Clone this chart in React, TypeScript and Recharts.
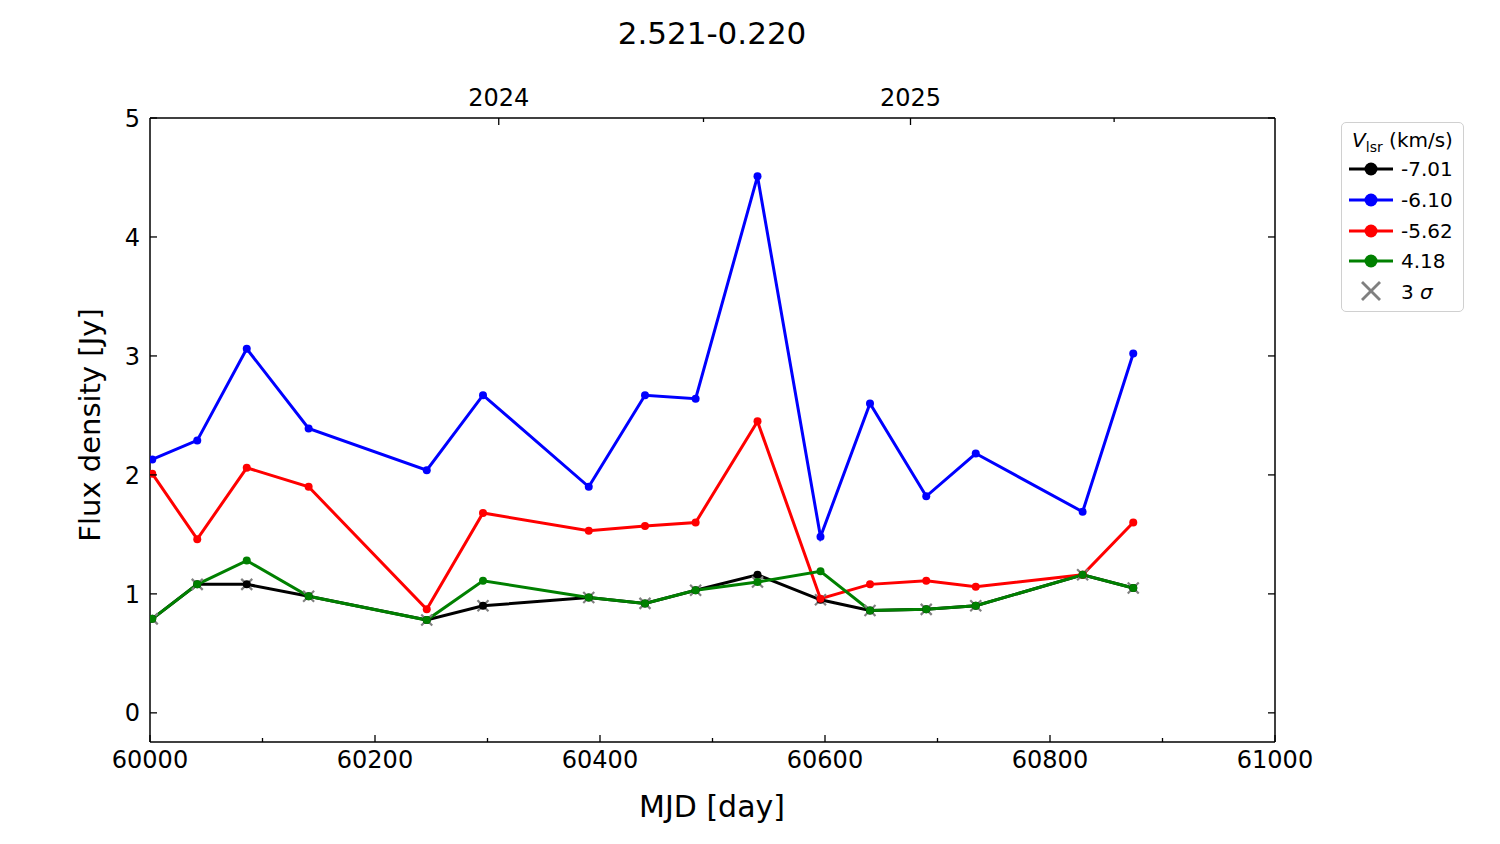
import { LineChart, Line, XAxis, YAxis } from 'recharts';

// epochs (MJD) and flux densities [Jy] per velocity channel
const mjd = [60002, 60042, 60086, 60141, 60246, 60296, 60390, 60440, 60485, 60540, 60596, 60640, 60690, 60734, 60829, 60874];
const fluxM701 = [0.79, 1.08, 1.08, 0.98, 0.78, 0.90, 0.97, 0.92, 1.03, 1.16, 0.95, 0.86, 0.87, 0.90, 1.16, 1.05];
const fluxM610 = [2.13, 2.29, 3.06, 2.39, 2.04, 2.67, 1.90, 2.67, 2.64, 4.51, 1.48, 2.60, 1.82, 2.18, 1.69, 3.02];
const fluxM562 = [2.01, 1.46, 2.06, 1.90, 0.87, 1.68, 1.53, 1.57, 1.60, 2.45, 0.96, 1.08, 1.11, 1.06, 1.16, 1.60];
const fluxP418 = [0.79, 1.08, 1.28, 0.98, 0.78, 1.11, 0.97, 0.92, 1.03, 1.10, 1.19, 0.86, 0.87, 0.90, 1.16, 1.05];
const sigma3 = [0.79, 1.08, 1.08, 0.98, 0.78, 0.90, 0.97, 0.92, 1.03, 1.10, 0.95, 0.86, 0.87, 0.90, 1.16, 1.05];

const xTicks = [60000, 60100, 60200, 60300, 60400, 60500, 60600, 60700, 60800, 60900, 61000];
const yTicks = [0, 1, 2, 3, 4, 5];
const yearTicks = [60310, 60492, 60676, 60857];
const yearLabels = ['2024', '', '2025', ''];

const series = [
  { key: 'v701', label: '-7.01', color: '#000000' },
  { key: 'v610', label: '-6.10', color: '#0000ff' },
  { key: 'v562', label: '-5.62', color: '#ff0000' },
  { key: 'v418', label: '4.18', color: '#008000' },
];

const data = mjd.map((m, i) => ({
  mjd: m,
  v701: fluxM701[i],
  v610: fluxM610[i],
  v562: fluxM562[i],
  v418: fluxP418[i],
  sigma: sigma3[i],
}));

const FONT = '"DejaVu Sans", sans-serif';
const TICK_FONT = 24;

const BottomTick = (props: any) => {
  const { x, y, payload } = props;
  const major = payload.value % 200 === 0;
  return (
    <g>
      <line x1={x} x2={x} y1={y} y2={y - (major ? 7 : 4)} stroke="#000" strokeWidth={1.3} />
      {major && (
        <text x={x} y={y + 9} dy="0.71em" textAnchor="middle" fontSize={TICK_FONT} fontFamily={FONT} fill="#000">
          {payload.value}
        </text>
      )}
    </g>
  );
};

const TopTick = (props: any) => {
  const { x, y, index } = props;
  const label = yearLabels[index];
  return (
    <g>
      <line x1={x} x2={x} y1={y} y2={y + (label ? 7 : 4)} stroke="#000" strokeWidth={1.3} />
      {label && (
        <text x={x} y={y - 12} textAnchor="middle" fontSize={TICK_FONT} fontFamily={FONT} fill="#000">
          {label}
        </text>
      )}
    </g>
  );
};

const LeftTick = (props: any) => {
  const { x, y, payload } = props;
  return (
    <g>
      <line x1={x} x2={x + 7} y1={y} y2={y} stroke="#000" strokeWidth={1.3} />
      <text x={x - 10} y={y} dy="0.36em" textAnchor="end" fontSize={TICK_FONT} fontFamily={FONT} fill="#000">
        {payload.value}
      </text>
    </g>
  );
};

const RightTick = (props: any) => {
  const { x, y } = props;
  return <line x1={x} x2={x - 7} y1={y} y2={y} stroke="#000" strokeWidth={1.3} />;
};

const CrossDot = (props: any) => {
  const { cx, cy } = props;
  if (cx == null || cy == null) return null;
  const s = 5.5;
  return (
    <g stroke="#808080" strokeWidth={2.2}>
      <line x1={cx - s} y1={cy - s} x2={cx + s} y2={cy + s} />
      <line x1={cx - s} y1={cy + s} x2={cx + s} y2={cy - s} />
    </g>
  );
};

const LegendBox = () => (
  <div
    style={{
      position: 'absolute',
      left: 1341,
      top: 122,
      width: 123,
      height: 190,
      border: '1.5px solid #d0d0d0',
      borderRadius: 5,
      background: '#fff',
      fontFamily: FONT,
      fontSize: 20,
      color: '#000',
      boxSizing: 'border-box',
    }}
  >
    <div style={{ textAlign: 'center', marginTop: 3, height: 28, lineHeight: '28px', fontSize: 20, whiteSpace: 'nowrap' }}>
      <i>V</i>
      <sub style={{ fontSize: 14 }}>lsr</sub> (km/s)
    </div>
    {series.map((s) => (
      <div key={s.key} style={{ display: 'flex', alignItems: 'center', height: 30.7 }}>
        <svg width={52} height={20} style={{ marginLeft: 7 }}>
          <line x1={0} x2={44} y1={10} y2={10} stroke={s.color} strokeWidth={3} />
          <circle cx={22} cy={10} r={6.5} fill={s.color} />
        </svg>
        <span>{s.label}</span>
      </div>
    ))}
    <div style={{ display: 'flex', alignItems: 'center', height: 30.7 }}>
      <svg width={52} height={22} style={{ marginLeft: 7 }}>
        <g stroke="#808080" strokeWidth={2.8}>
          <line x1={13} y1={1} x2={31} y2={19} />
          <line x1={13} y1={19} x2={31} y2={1} />
        </g>
      </svg>
      <span>
        3 <i>σ</i>
      </span>
    </div>
  </div>
);

export default function App() {
  return (
    <div style={{ position: 'absolute', left: 0, top: 0, width: 1500, height: 844, background: '#fff' }}>
      <LineChart
        width={1500}
        height={844}
        data={data}
        margin={{ top: 88, right: 205, bottom: 72, left: 90 }}
      >
        <XAxis
          xAxisId="bottom"
          dataKey="mjd"
          type="number"
          domain={[60000, 61000]}
          ticks={xTicks}
          interval={0}
          allowDataOverflow
          height={30}
          tickSize={0}
          tickMargin={0}
          tickLine={false}
          tick={<BottomTick />}
          axisLine={{ stroke: '#000', strokeWidth: 1.5 }}
        />
        <XAxis
          xAxisId="top"
          orientation="top"
          dataKey="mjd"
          type="number"
          domain={[60000, 61000]}
          ticks={yearTicks}
          interval={0}
          allowDataOverflow
          height={30}
          tickSize={0}
          tickMargin={0}
          tickLine={false}
          tick={<TopTick />}
          axisLine={{ stroke: '#000', strokeWidth: 1.5 }}
        />
        <YAxis
          yAxisId="left"
          type="number"
          domain={[-0.245, 5]}
          ticks={yTicks}
          interval={0}
          allowDataOverflow
          width={60}
          tickSize={0}
          tickMargin={0}
          tickLine={false}
          tick={<LeftTick />}
          axisLine={{ stroke: '#000', strokeWidth: 1.5 }}
        />
        <YAxis
          yAxisId="right"
          orientation="right"
          type="number"
          domain={[-0.245, 5]}
          ticks={yTicks}
          interval={0}
          allowDataOverflow
          width={20}
          tickSize={0}
          tickMargin={0}
          tickLine={false}
          tick={<RightTick />}
          axisLine={{ stroke: '#000', strokeWidth: 1.5 }}
        />
        <Line
          xAxisId="bottom"
          yAxisId="left"
          dataKey="sigma"
          stroke="none"
          dot={<CrossDot />}
          activeDot={false}
          legendType="none"
          isAnimationActive={false}
        />
        {series.map((s) => (
          <Line
            key={s.key}
            xAxisId="bottom"
            yAxisId="left"
            dataKey={s.key}
            stroke={s.color}
            strokeWidth={3}
            dot={{ r: 4, fill: s.color, stroke: s.color, strokeWidth: 0 }}
            activeDot={false}
            isAnimationActive={false}
          />
        ))}
      </LineChart>
      <LegendBox />
      <div
        style={{
          position: 'absolute', left: 712, top: 33, transform: 'translate(-50%, -50%)',
          fontFamily: FONT, fontSize: 31, whiteSpace: 'nowrap',
        }}
      >
        2.521-0.220
      </div>
      <div
        style={{
          position: 'absolute', left: 712, top: 806, transform: 'translate(-50%, -50%)',
          fontFamily: FONT, fontSize: 30, whiteSpace: 'nowrap',
        }}
      >
        MJD [day]
      </div>
      <div
        style={{
          position: 'absolute', left: 90, top: 425, transform: 'translate(-50%, -50%) rotate(-90deg)',
          fontFamily: FONT, fontSize: 29, whiteSpace: 'nowrap',
        }}
      >
        Flux density [Jy]
      </div>
    </div>
  );
}
